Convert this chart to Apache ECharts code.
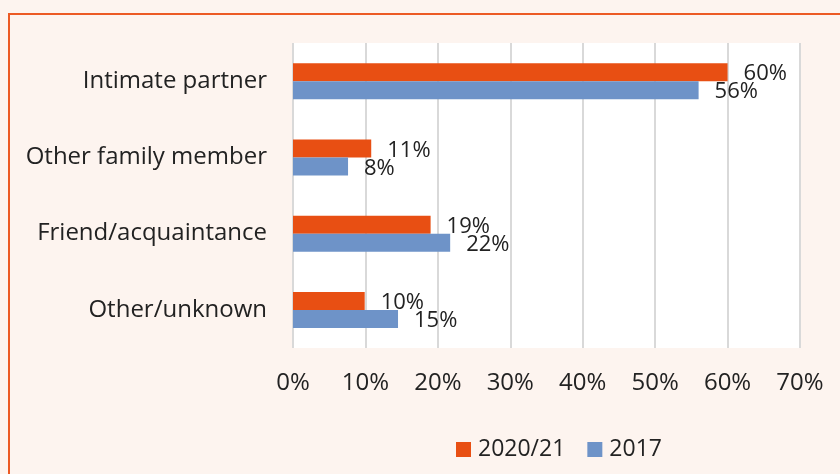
<!DOCTYPE html>
<html>
<head>
<meta charset="utf-8">
<script src="https://cdn.jsdelivr.net/npm/echarts@6/dist/echarts.min.js"></script>
<style>
  html, body { margin: 0; padding: 0; background: #fdf4ef; }
  #chart { width: 840px; height: 474px; }
</style>
</head>
<body>
<div id="chart"></div>
<script>
const categories = [
  'Intimate partner',
  'Other family member',
  'Friend/acquaintance',
  'Other/unknown'
]

const series2021 = [60, 10.8, 19, 9.9]
const series2017 = [56, 7.6, 21.7, 14.5]

const xTicks = [0, 10, 20, 30, 40, 50, 60, 70]

const chart = echarts.init(document.getElementById('chart'))

const font = '"Open Sans", "Noto Sans", sans-serif'

// value labels sit right of the bar end, a touch below centre
const labelStyle = {
  show: true,
  position: 'right',
  distance: 16,
  offset: [0, 2],
  color: '#222',
  fontSize: 22,
  fontFamily: font,
  formatter: (p) => Math.round(p.value) + '%'
}

const option = {
  backgroundColor: '#fdf4ef',
  textStyle: { fontFamily: font },
  animation: false,

  graphic: [
    {
      type: 'rect',
      shape: { x: 9, y: 14, width: 900, height: 520 },
      style: { fill: 'none', stroke: '#ec5a24', lineWidth: 2 },
      silent: true
    }
  ],

  legend: {
    top: 433,
    left: 451,
    itemWidth: 15,
    itemHeight: 15,
    itemGap: 22,
    icon: 'rect',
    textStyle: {
      color: '#222',
      fontSize: 23,
      fontFamily: font,
      padding: [0, 0, 0, 2]
    },
    data: ['2020/21', '2017']
  },

  grid: {
    left: 293,
    right: 40,
    top: 43,
    bottom: 126,
    show: true,
    backgroundColor: '#ffffff',
    borderWidth: 0
  },

  xAxis: {
    type: 'value',
    min: 0,
    max: 70,
    interval: 10,
    axisLine: { show: false },
    axisTick: { show: false },
    axisLabel: {
      color: '#222',
      fontSize: 24,
      fontFamily: font,
      margin: 23,
      formatter: (v) => (xTicks.includes(v) ? v + '%' : '')
    },
    splitLine: {
      lineStyle: { color: '#d9d9d9', width: 2 }
    }
  },

  yAxis: {
    type: 'category',
    inverse: true,
    data: categories,
    axisLine: { show: false },
    axisTick: { show: false },
    axisLabel: {
      color: '#222',
      fontSize: 24,
      fontFamily: font,
      margin: 26
    }
  },

  series: [
    {
      name: '2020/21',
      type: 'bar',
      data: series2021,
      barWidth: 18,
      barGap: '0%',
      itemStyle: { color: '#e84f13' },
      label: labelStyle
    },
    {
      name: '2017',
      type: 'bar',
      data: series2017,
      barWidth: 18,
      barGap: '0%',
      itemStyle: { color: '#6e93c8' },
      label: labelStyle
    }
  ]
}

chart.setOption(option)
</script>
</body>
</html>
